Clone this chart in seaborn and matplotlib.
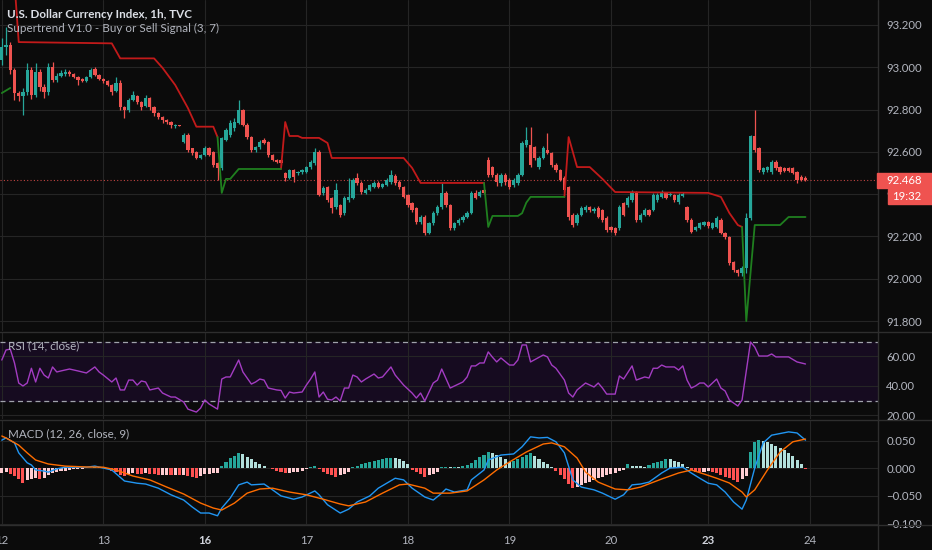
import numpy as np
import pandas as pd
import matplotlib
matplotlib.use("Agg")
import matplotlib.pyplot as plt
from matplotlib.lines import Line2D
from matplotlib.patches import Rectangle
import seaborn as sns

# ----------------------------
# Data: U.S. Dollar Index, 1h bars (bar 0 = first hour of the 12th)
# ----------------------------
opens = [
    93.035, 93.096, 93.105, 92.987, 92.878, 92.864, 92.883, 92.987, 92.869, 92.978,
    92.907, 92.883, 93.001, 92.940, 92.959, 92.970, 92.978, 92.970, 92.954, 92.945,
    92.935, 92.954, 92.990, 92.964, 92.945, 92.935, 92.916, 92.890, 92.926, 92.812,
    92.798, 92.845, 92.865, 92.836, 92.815, 92.855, 92.812, 92.784, 92.765, 92.751,
    92.741, 92.722, 92.727, 92.647, 92.680, 92.618, 92.600, 92.571, 92.585, 92.618,
    92.600, 92.547, 92.524, 92.656, 92.680, 92.713, 92.737, 92.798, 92.727, 92.670,
    92.609, 92.623, 92.656, 92.647, 92.585, 92.562, 92.562, 92.500, 92.477, 92.514,
    92.500, 92.505, 92.505, 92.528, 92.547, 92.600, 92.406, 92.434, 92.382, 92.339,
    92.349, 92.311, 92.372, 92.382, 92.477, 92.453, 92.406, 92.420, 92.434, 92.453,
    92.434, 92.443, 92.457, 92.486, 92.457, 92.434, 92.396, 92.358, 92.334, 92.268,
    92.292, 92.216, 92.264, 92.311, 92.339, 92.406, 92.349, 92.240, 92.264, 92.278,
    92.292, 92.311, 92.406, 92.391, 92.420, 92.562, 92.528, 92.491, 92.453, 92.491,
    92.467, 92.443, 92.453, 92.491, 92.633, 92.633, 92.623, 92.528, 92.571, 92.609,
    92.595, 92.538, 92.514, 92.477, 92.434, 92.301, 92.264, 92.301, 92.325, 92.339,
    92.320, 92.334, 92.325, 92.287, 92.245, 92.240, 92.240, 92.358, 92.349, 92.372,
    92.410, 92.278, 92.301, 92.325, 92.325, 92.372, 92.387, 92.406, 92.396, 92.396,
    92.363, 92.391, 92.339, 92.278, 92.230, 92.240, 92.254, 92.268, 92.240, 92.245,
    92.278, 92.216, 92.197, 92.079, 92.041, 92.027, 92.051, 92.287, 92.675, 92.618,
    92.505, 92.514, 92.505, 92.552, 92.528, 92.524, 92.524, 92.524, 92.505, 92.481,
    92.477]
closes = [
    93.096, 93.105, 92.987, 92.878, 92.864, 92.883, 92.987, 92.869, 92.978, 92.907,
    92.883, 93.001, 92.940, 92.959, 92.973, 92.978, 92.970, 92.954, 92.940, 92.935,
    92.954, 92.987, 92.964, 92.945, 92.935, 92.916, 92.883, 92.926, 92.812, 92.798,
    92.845, 92.869, 92.836, 92.812, 92.855, 92.812, 92.784, 92.765, 92.751, 92.741,
    92.727, 92.727, 92.722, 92.680, 92.609, 92.595, 92.571, 92.585, 92.618, 92.585,
    92.538, 92.524, 92.666, 92.703, 92.737, 92.741, 92.798, 92.727, 92.670, 92.609,
    92.623, 92.647, 92.642, 92.585, 92.562, 92.552, 92.547, 92.477, 92.514, 92.481,
    92.505, 92.514, 92.528, 92.552, 92.600, 92.396, 92.429, 92.372, 92.334, 92.420,
    92.301, 92.382, 92.387, 92.467, 92.453, 92.410, 92.420, 92.443, 92.453, 92.434,
    92.448, 92.467, 92.491, 92.453, 92.434, 92.387, 92.349, 92.325, 92.268, 92.292,
    92.216, 92.264, 92.311, 92.339, 92.406, 92.349, 92.240, 92.264, 92.278, 92.292,
    92.311, 92.406, 92.382, 92.410, 92.406, 92.491, 92.491, 92.457, 92.491, 92.457,
    92.434, 92.467, 92.491, 92.642, 92.656, 92.538, 92.571, 92.571, 92.618, 92.595,
    92.538, 92.514, 92.467, 92.420, 92.292, 92.254, 92.301, 92.334, 92.339, 92.325,
    92.330, 92.292, 92.278, 92.230, 92.230, 92.216, 92.339, 92.301, 92.382, 92.410,
    92.278, 92.301, 92.325, 92.301, 92.396, 92.396, 92.406, 92.382, 92.401, 92.372,
    92.396, 92.401, 92.278, 92.221, 92.245, 92.264, 92.268, 92.249, 92.264, 92.287,
    92.216, 92.197, 92.074, 92.041, 92.027, 92.051, 92.287, 92.675, 92.609, 92.514,
    92.524, 92.528, 92.552, 92.524, 92.505, 92.510, 92.510, 92.500, 92.467, 92.467,
    92.468]
highs = [
    93.138, 93.190, 93.120, 92.995, 92.890, 92.900, 93.020, 93.000, 93.020, 92.990,
    92.920, 93.020, 93.025, 92.975, 92.985, 92.990, 92.985, 92.975, 92.960, 92.950,
    92.960, 92.995, 93.000, 92.970, 92.950, 92.940, 92.920, 92.955, 92.940, 92.815,
    92.855, 92.890, 92.870, 92.840, 92.870, 92.860, 92.815, 92.790, 92.770, 92.755,
    92.745, 92.730, 92.727, 92.690, 92.690, 92.620, 92.605, 92.590, 92.630, 92.625,
    92.605, 92.550, 92.670, 92.715, 92.750, 92.760, 92.845, 92.805, 92.735, 92.675,
    92.630, 92.655, 92.665, 92.650, 92.590, 92.565, 92.565, 92.505, 92.520, 92.520,
    92.510, 92.520, 92.535, 92.560, 92.620, 92.610, 92.440, 92.440, 92.385, 92.453,
    92.355, 92.390, 92.477, 92.475, 92.500, 92.460, 92.430, 92.450, 92.460, 92.460,
    92.455, 92.475, 92.514, 92.495, 92.465, 92.440, 92.400, 92.365, 92.340, 92.300,
    92.300, 92.270, 92.320, 92.350, 92.453, 92.415, 92.355, 92.270, 92.285, 92.300,
    92.320, 92.415, 92.420, 92.420, 92.425, 92.575, 92.535, 92.500, 92.500, 92.500,
    92.475, 92.475, 92.500, 92.650, 92.718, 92.718, 92.630, 92.580, 92.630, 92.689,
    92.600, 92.545, 92.520, 92.485, 92.440, 92.310, 92.310, 92.345, 92.350, 92.345,
    92.340, 92.345, 92.330, 92.295, 92.250, 92.245, 92.350, 92.365, 92.390, 92.420,
    92.415, 92.310, 92.335, 92.330, 92.405, 92.405, 92.420, 92.410, 92.410, 92.400,
    92.405, 92.410, 92.345, 92.285, 92.250, 92.270, 92.275, 92.275, 92.270, 92.295,
    92.285, 92.220, 92.200, 92.085, 92.045, 92.060, 92.310, 92.680, 92.798, 92.625,
    92.530, 92.535, 92.560, 92.560, 92.535, 92.530, 92.530, 92.530, 92.510, 92.490,
    92.485]
lows = [
    93.011, 93.060, 92.970, 92.845, 92.840, 92.774, 92.870, 92.850, 92.860, 92.890,
    92.855, 92.870, 92.930, 92.930, 92.955, 92.960, 92.960, 92.950, 92.915, 92.930,
    92.930, 92.950, 92.960, 92.940, 92.925, 92.910, 92.870, 92.885, 92.800, 92.760,
    92.790, 92.840, 92.825, 92.800, 92.810, 92.800, 92.770, 92.755, 92.735, 92.730,
    92.715, 92.715, 92.720, 92.640, 92.600, 92.585, 92.565, 92.565, 92.580, 92.580,
    92.530, 92.467, 92.515, 92.650, 92.670, 92.700, 92.730, 92.720, 92.660, 92.600,
    92.600, 92.615, 92.635, 92.575, 92.555, 92.545, 92.540, 92.460, 92.470, 92.457,
    92.490, 92.495, 92.500, 92.520, 92.540, 92.390, 92.395, 92.365, 92.311, 92.330,
    92.290, 92.300, 92.365, 92.375, 92.445, 92.400, 92.400, 92.415, 92.430, 92.430,
    92.430, 92.440, 92.450, 92.445, 92.425, 92.380, 92.340, 92.315, 92.260, 92.260,
    92.205, 92.210, 92.255, 92.300, 92.330, 92.340, 92.230, 92.230, 92.255, 92.270,
    92.285, 92.305, 92.375, 92.385, 92.400, 92.480, 92.480, 92.440, 92.440, 92.445,
    92.425, 92.435, 92.445, 92.485, 92.625, 92.530, 92.560, 92.520, 92.565, 92.590,
    92.530, 92.505, 92.460, 92.410, 92.280, 92.245, 92.255, 92.295, 92.315, 92.315,
    92.310, 92.285, 92.270, 92.220, 92.220, 92.205, 92.230, 92.295, 92.340, 92.365,
    92.270, 92.270, 92.295, 92.295, 92.320, 92.365, 92.380, 92.375, 92.390, 92.365,
    92.355, 92.385, 92.270, 92.215, 92.225, 92.235, 92.250, 92.240, 92.235, 92.240,
    92.210, 92.190, 92.065, 92.030, 92.015, 92.015, 92.025, 92.280, 92.600, 92.505,
    92.495, 92.505, 92.495, 92.515, 92.495, 92.505, 92.505, 92.495, 92.455, 92.460,
    92.462]

# Supertrend (3, 7): vertices per trend leg (bar, value, leg id)
st_red_bar = [3, 4, 26, 28, 36, 38, 41, 44, 46, 50, 51,
              66, 67, 68, 70, 71, 75, 77, 78, 95, 97, 99, 114,
              133, 134, 136, 139, 142, 145, 167, 170, 172, 174, 175]
st_red_val = [93.400, 93.119, 93.113, 93.042, 93.042, 92.997, 92.916, 92.807, 92.719, 92.719, 92.670,
              92.519, 92.741, 92.675, 92.675, 92.666, 92.666, 92.642, 92.571, 92.571, 92.524, 92.453, 92.453,
              92.387, 92.670, 92.528, 92.528, 92.472, 92.410, 92.406, 92.387, 92.311, 92.254, 92.245]
st_red_leg = [0] * 11 + [1] * 12 + [2] * 11
st_green_bar = [0, 2,
                51, 52, 53, 54, 56, 66,
                114, 115, 116, 122, 123, 124, 125, 133,
                175, 176, 178, 184, 186, 190]
st_green_val = [92.878, 92.902,
                92.670, 92.406, 92.472, 92.472, 92.519, 92.519,
                92.453, 92.245, 92.297, 92.297, 92.310, 92.360, 92.387, 92.387,
                92.245, 91.800, 92.254, 92.254, 92.292, 92.292]
st_green_leg = [0] * 2 + [1] * 6 + [2] * 8 + [3] * 6

# RSI (14, close)
rsi_bar = [0, 1, 2, 3, 4, 5, 6, 7, 8, 9, 10, 11, 12, 13, 14, 16, 18, 20, 22, 23, 24, 26, 27, 28, 29,
           30, 31, 32, 33, 34, 35, 37, 38, 40, 41, 43, 44, 46, 47, 48, 49, 51, 52, 53, 54, 56, 57, 59,
           60, 61, 62, 63, 65, 66, 67, 68, 69, 71, 72, 73, 74, 75, 76, 77, 78, 79, 80, 81, 82, 83, 84,
           85, 86, 88, 89, 90, 92, 93, 95, 97, 98, 99, 100, 102, 103, 104, 106, 108, 109, 110, 111,
           112, 113, 114, 115, 116, 117, 118, 120, 121, 122, 123, 124, 125, 128, 129, 130, 131, 133,
           134, 135, 136, 138, 140, 141, 142, 143, 145, 146, 147, 149, 150, 152, 153, 154, 155, 156,
           157, 159, 160, 161, 162, 163, 164, 165, 166, 167, 169, 170, 171, 172, 174, 175, 177, 178,
           179, 181, 182, 183, 186, 188, 189, 190]
rsi_val = [57.6, 64.4, 65.0, 55.6, 42.0, 40.0, 42.0, 52.0, 42.7, 52.0, 47.4, 45.4, 52.9, 49.5, 50.2,
           51.5, 50.2, 48.8, 52.9, 49.5, 47.4, 42.7, 45.4, 37.3, 37.3,
           44.0, 44.0, 40.6, 43.4, 42.7, 37.3, 38.6, 35.2, 32.5, 32.5, 29.1, 24.3, 22.3, 25.0, 30.5,
           27.8, 24.3, 44.7, 46.1, 46.1, 57.6, 49.5, 41.3,
           42.7, 44.7, 44.0, 38.6, 37.3, 37.0, 31.8, 35.9, 35.2, 35.9, 40.6, 44.7, 49.5, 32.5, 35.9,
           31.0, 30.5, 32.5, 29.8, 38.6, 38.6, 47.4, 46.1,
           42.7, 44.7, 48.1, 45.4, 46.1, 52.9, 47.4, 40.6, 35.2, 31.8, 35.2, 29.8, 42.0, 44.0, 51.5,
           38.6, 41.3, 42.7, 46.1, 53.6,
           53.6, 55.6, 55.6, 63.1, 59.5, 56.3, 59.0, 54.2, 54.2, 57.6, 67.8, 67.8, 56.3, 61.0, 59.7,
           54.2, 52.0, 44.0,
           35.2, 32.5, 37.3, 42.0, 39.3, 42.0, 38.6, 34.5, 34.5, 46.8, 44.7, 53.6, 44.0, 46.1, 45.4,
           52.0, 52.0, 54.2,
           52.9, 52.9, 50.8, 53.6, 44.0, 38.6, 40.0, 42.0, 42.0, 39.3, 44.7, 38.6, 36.6, 30.5, 26.4,
           30.5, 69.8, 66.4,
           60.3, 60.3, 61.7, 59.7, 59.7, 56.3, 55.6, 54.9]

# MACD (12, 26, close, 9)
macd_bar = [0, 1, 3, 4, 6, 7, 8, 10, 11, 13, 15, 18, 20, 22, 24, 26, 29, 32, 34, 37,
            40, 43, 45, 47, 49, 51, 52, 54, 56, 58, 59, 62, 64, 66, 69, 71, 74, 75, 77, 80,
            82, 84, 87, 89, 93, 95, 97, 100, 102, 104, 105, 107, 110, 111, 114, 115, 118, 121, 123, 125,
            127, 129, 131, 133, 135, 137, 140, 142, 145, 147, 149, 151, 153, 156, 158, 161, 163, 165, 167, 169,
            171, 173, 175, 176, 178, 180, 182, 186, 188, 190]
macd_val = [0.051, 0.055, 0.046, 0.028, 0.010, 0.006, -0.003, -0.005, -0.007, -0.001,
            0.002, 0.002, 0.002, 0.004, 0.0005, -0.003, -0.023, -0.027, -0.0285, -0.036,
            -0.048, -0.0575, -0.070, -0.081, -0.081, -0.086, -0.072, -0.054, -0.030, -0.025,
            -0.030, -0.0285, -0.039, -0.050, -0.056, -0.052, -0.041, -0.048, -0.066, -0.081,
            -0.074, -0.061, -0.050, -0.036, -0.018, -0.021, -0.036, -0.052, -0.0575, -0.045,
            -0.0375, -0.043, -0.039, -0.021, -0.003, 0.015, 0.024, 0.026, 0.039, 0.057,
            0.055, 0.056, 0.048, 0.028, -0.021, -0.034, -0.039, -0.045, -0.056, -0.048,
            -0.030, -0.0285, -0.025, -0.0085, 0.0005, 0.002, -0.0085, -0.018, -0.027, -0.030,
            -0.043, -0.061, -0.074, -0.0575, 0.0005, 0.046, 0.060, 0.066, 0.064, 0.051]
signal_bar = [0, 1, 4, 6, 8, 11, 15, 20, 24, 27, 31, 35, 39, 43, 47, 50, 52, 55, 58, 61,
              64, 68, 72, 76, 80, 82, 86, 90, 94, 96, 100, 102, 106, 110, 114, 117, 120, 124, 128, 130,
              133, 136, 138, 141, 145, 148, 151, 156, 160, 163, 166, 169, 172, 175, 176, 178, 181, 184, 187, 190]
signal_val = [0.0585, 0.055, 0.042, 0.028, 0.015, 0.0078, 0.004, 0.0024, 0.002, -0.003,
              -0.014, -0.021, -0.034, -0.0466, -0.063, -0.072, -0.0756, -0.063, -0.045, -0.0375,
              -0.036, -0.043, -0.048, -0.056, -0.0647, -0.068, -0.061, -0.045, -0.030, -0.0285,
              -0.036, -0.045, -0.045, -0.041, -0.021, -0.003, 0.0114, 0.0295, 0.044, 0.046,
              0.039, 0.0186, -0.0067, -0.025, -0.0375, -0.039, -0.034, -0.0194, -0.0085, -0.003,
              -0.0103, -0.018, -0.0266, -0.043, -0.052, -0.039, -0.003, 0.0295, 0.048, 0.053]
# histogram, in thousandths
hist_milli = [
    -8, -7, -10, -14, -20, -26, -22, -20, -18, -19,
    -17, -13, -9, -7, -5, -4, -3, -2, -1, -1,
    0, 1, 2, 2, 0, -2, -4, -6, -12, -14,
    -11, -9, -10, -11, -9, -10, -11, -12, -12, -12,
    -13, -12, -13, -12, -14, -16, -17, -14, -11, -10,
    -9, -8, 5, 12, 18, 23, 28, 26, 21, 16,
    12, 8, 4, 1, -2, -4, -7, -9, -8, -7,
    -6, -4, -2, 3, 5, -2, -6, -10, -13, -15,
    -13, -10, -6, 3, 5, 7, 9, 11, 13, 15,
    17, 18, 19, 18, 16, 13, 7, -3, -7, -11,
    -15, -13, -10, -6, 2, 3, 2, 3, 3, 4,
    6, 10, 15, 20, 25, 29, 28, 24, 20, 16,
    12, 14, 17, 21, 25, 27, 22, 17, 12, 7,
    3, -4, -12, -20, -28, -36, -34, -30, -27, -24,
    -21, -18, -15, -13, -10, -8, -5, -3, 8, 5,
    4, 4, 3, 6, 9, 12, 14, 16, 16, 14,
    12, 8, 3, -3, -6, -7, -6, -5, -6, -8,
    -12, -15, -18, -22, -25, -20, -14, 30, 47, 51,
    50, 47, 44, 41, 37, 33, 28, 22, 15, 7,
    -2]

day_ticks = [0, 24, 48, 72, 96, 120, 144, 167, 191]
day_labels = ["12", "13", "16", "17", "18", "19", "20", "23", "24"]
price_ticks = [91.8, 92.0, 92.2, 92.4, 92.6, 92.8, 93.0, 93.2]
rsi_ticks = [20, 40, 60]
macd_ticks = [-0.1, -0.05, 0.0, 0.05]
macd_labels = ["\u22120.100", "\u22120.050", "0.000", "0.050"]

# ----------------------------
# Style
# ----------------------------
BG = "#0b0b0b"
GRID = "#252525"
SEP = "#2e2e2e"
TEXT = "#b2b5be"
UP = "#26a69a"
DOWN = "#ef5350"

sns.set_theme(style="dark", rc={"axes.facecolor": BG, "figure.facecolor": BG})
plt.rcParams["font.family"] = ["Lato", "DejaVu Sans"]

W, H = 932, 550
fig = plt.figure(figsize=(W / 100, H / 100), dpi=100)


def pane(top, bottom):
    return fig.add_axes([0, 1 - bottom / H, 878 / W, (bottom - top) / H])


ax_p = pane(0, 331)
ax_r = pane(332, 419)
ax_m = pane(420, 525)
XL = (-1.8 / 4.23, (878 - 1.8) / 4.23)

for ax in (ax_p, ax_r, ax_m):
    ax.set_facecolor(BG)
    ax.set_xlim(XL)
    for s in ax.spines.values():
        s.set_visible(False)
    ax.set_xticks(day_ticks)
    ax.grid(True, color=GRID, linewidth=0.8)
    ax.set_axisbelow(True)
    ax.yaxis.tick_right()
    ax.tick_params(length=0, labelcolor=TEXT, labelsize=8.2, pad=6)

# ---- price pane: candles + supertrend ----
idx = np.arange(len(closes))
o = np.array(opens)
c = np.array(closes)
cols = np.where(c >= o, UP, DOWN)
ax_p.vlines(idx, lows, highs, colors=cols, linewidth=0.9, zorder=2)
ax_p.bar(idx, np.maximum(np.abs(c - o), 0.003), bottom=np.minimum(o, c), width=0.78,
         color=cols, linewidth=0, zorder=3)

red = pd.DataFrame({"bar": st_red_bar, "val": st_red_val, "leg": st_red_leg})
green = pd.DataFrame({"bar": st_green_bar, "val": st_green_val, "leg": st_green_leg})
sns.lineplot(data=red, x="bar", y="val", units="leg", estimator=None, sort=False,
             color="#c21a1a", linewidth=1.3, ax=ax_p, legend=False, zorder=4)
sns.lineplot(data=green, x="bar", y="val", units="leg", estimator=None, sort=False,
             color="#1f7f1f", linewidth=1.3, ax=ax_p, legend=False, zorder=4)
ax_p.axhline(closes[-1], color=DOWN, linestyle=(0, (1, 2)), linewidth=0.8, alpha=0.8)
ax_p.set_ylim(91.753, 93.318)
ax_p.set_yticks(price_ticks)
ax_p.set_yticklabels([f"{v:.3f}" for v in price_ticks])
ax_p.tick_params(axis="x", labelbottom=False)

# ---- RSI pane ----
ax_r.axhspan(30, 70, color="#160b20", zorder=0)
for lvl in (30, 70):
    ax_r.axhline(lvl, color="#a0a3ab", linestyle=(0, (4, 3)), linewidth=0.9)
sns.lineplot(x=rsi_bar, y=rsi_val, color="#a33cc2", linewidth=1.0, ax=ax_r)
ax_r.set_ylim(17.6, 76.6)
ax_r.set_yticks(rsi_ticks)
ax_r.set_yticklabels([f"{v:.2f}" for v in rsi_ticks])
ax_r.tick_params(axis="x", labelbottom=False)

# ---- MACD pane ----
h = np.array(hist_milli) / 1000.0
prev = np.r_[h[0], h[:-1]]
hcol = np.where(h >= 0, np.where(h > prev, "#26a69a", "#b2dfdb"),
                np.where(h < prev, "#ff5252", "#ffcdd2"))
ax_m.bar(idx, h, width=0.72, color=hcol, linewidth=0, zorder=2)
sns.lineplot(x=macd_bar, y=macd_val, color="#2196f3", linewidth=1.0, ax=ax_m)
sns.lineplot(x=signal_bar, y=signal_val, color="#ff6d00", linewidth=1.0, ax=ax_m)
ax_m.set_ylim(-0.1027, 0.0875)
ax_m.set_yticks(macd_ticks)
ax_m.set_yticklabels(macd_labels)
ax_m.set_xticklabels(day_labels)
ax_m.tick_params(axis="x", pad=7)
for lbl in ax_m.get_xticklabels():
    if lbl.get_text() in ("16", "23"):
        lbl.set_fontweight("bold")
        lbl.set_color("#d1d4dc")

for ax in (ax_p, ax_r, ax_m):
    ax.set_xlabel("")
    ax.set_ylabel("")

# ---- pane borders ----
for y in (331.5, 419.5, 525):
    fig.add_artist(Line2D([0, 1], [1 - y / H] * 2, color=SEP, linewidth=1, transform=fig.transFigure))
fig.add_artist(Line2D([878 / W] * 2, [0, 1], color=SEP, linewidth=1, transform=fig.transFigure))

# ---- labels ----
fig.text(7 / W, 1 - 14 / H, "U.S. Dollar Currency Index, 1h, TVC", color="#dcdfe6",
         fontsize=8.4, fontweight="bold", va="center")
fig.text(7 / W, 1 - 28 / H, "Supertrend V1.0 - Buy or Sell Signal (3, 7)", color=TEXT,
         fontsize=8.4, va="center")
fig.text(8 / W, 1 - 346 / H, "RSI (14, close)", color=TEXT, fontsize=8.4, va="center")
fig.text(8 / W, 1 - 434 / H, "MACD (12, 26, close, 9)", color=TEXT, fontsize=8.4, va="center")

# last price and countdown tags on the price scale
fig.add_artist(Rectangle((877 / W, 1 - 188 / H), 55 / W, 15 / H, transform=fig.transFigure,
                         color=DOWN, zorder=10))
fig.text(886 / W, 1 - 180.5 / H, f"{closes[-1]:.3f}", color="white", fontsize=8.2,
         va="center", zorder=11)
fig.add_artist(Rectangle((888 / W, 1 - 203.5 / H), 44 / W, 14.5 / H, transform=fig.transFigure,
                         color=DOWN, zorder=10))
fig.text(892 / W, 1 - 196.5 / H, "19:32", color="white", fontsize=8.2, va="center", zorder=11)

fig.savefig("out.png", dpi=100, facecolor=BG)
